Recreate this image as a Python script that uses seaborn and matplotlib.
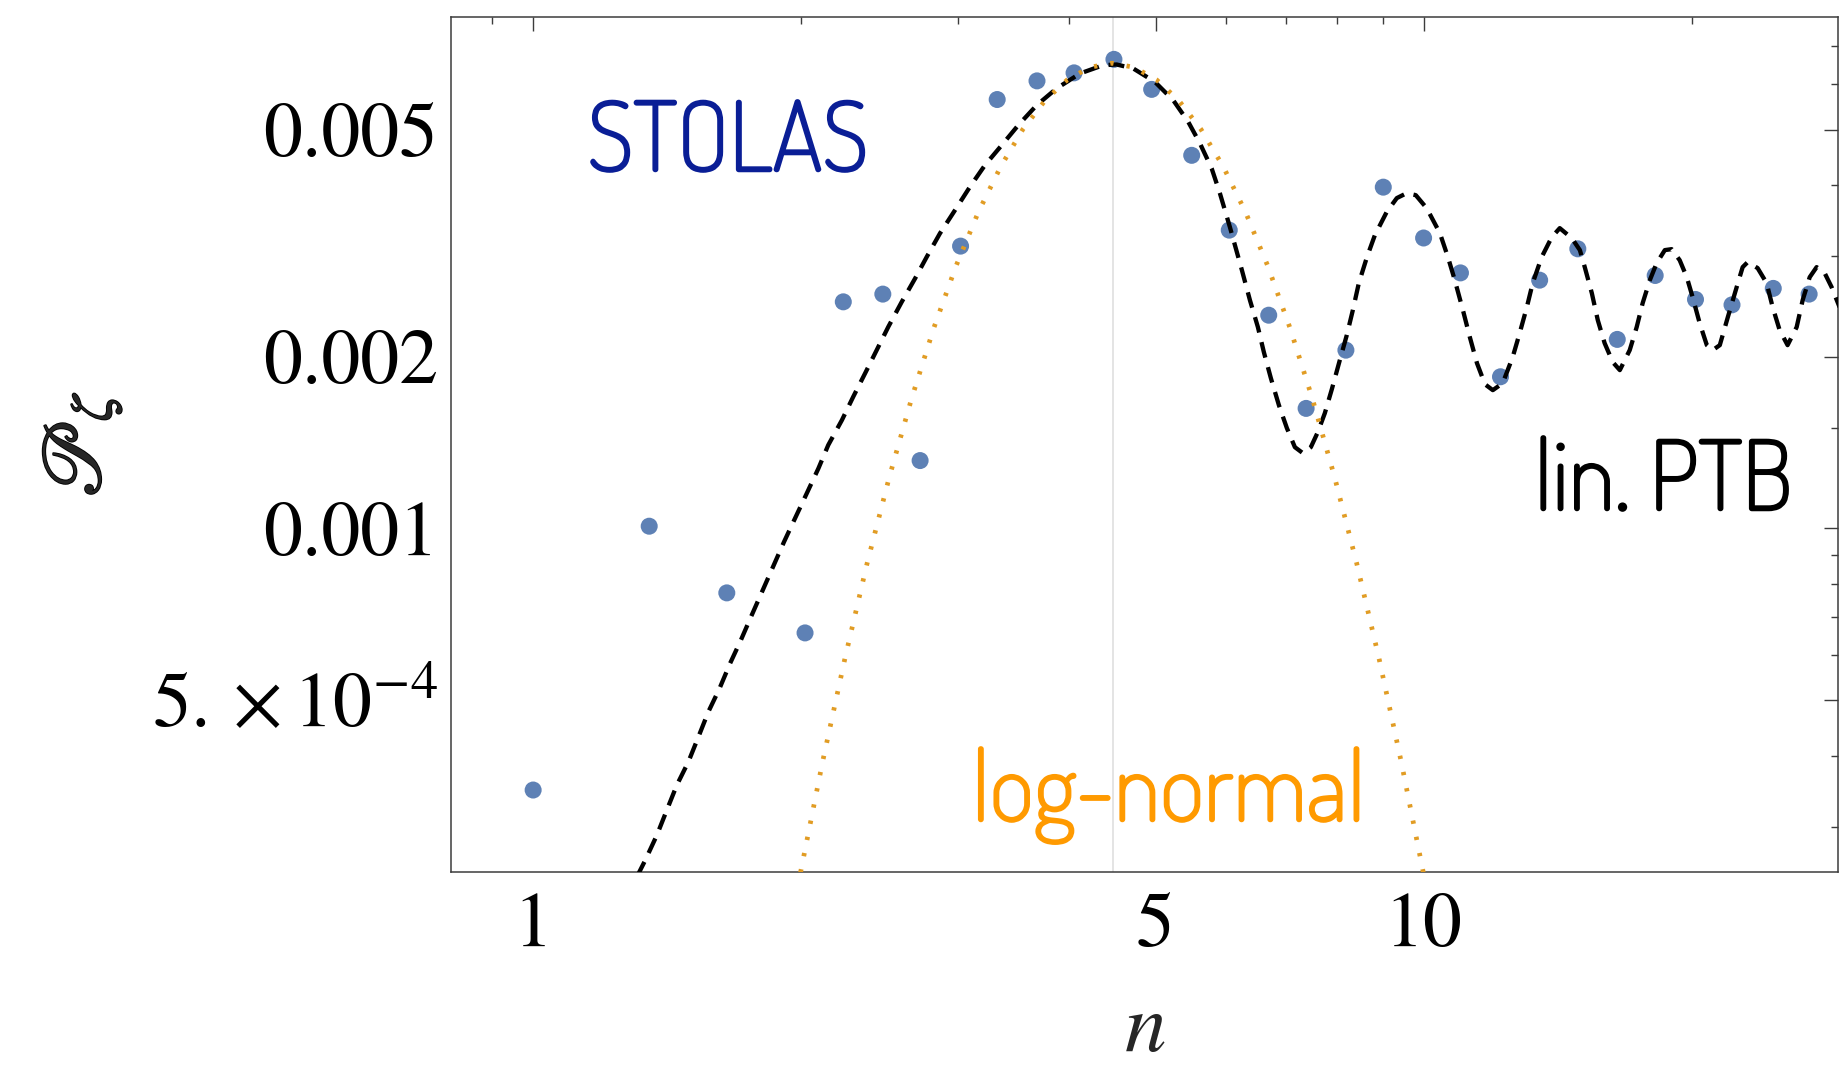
import matplotlib
matplotlib.use("Agg")
import matplotlib.pyplot as plt
import matplotlib.patheffects as pe
import seaborn as sns
from matplotlib import font_manager as fm
from matplotlib.ticker import FixedLocator, FixedFormatter, NullFormatter

# ---------------- data ----------------
n_stolas = [1.00, 1.35, 1.65, 2.02, 2.23, 2.47, 2.72, 3.02, 3.32, 3.68,
            4.05, 4.49, 4.95, 5.49, 6.05, 6.70, 7.38, 8.18, 9.01, 10.0,
            11.0, 12.2, 13.5, 14.9, 16.5, 18.2, 20.2, 22.2, 24.7, 27.1]
P_stolas = [3.48e-4, 1.009e-3, 7.71e-4, 6.56e-4, 2.495e-3, 2.574e-3, 1.315e-3, 3.124e-3, 5.644e-3, 6.085e-3,
            6.285e-3, 6.637e-3, 5.880e-3, 4.506e-3, 3.332e-3, 2.364e-3, 1.623e-3, 2.053e-3, 3.963e-3, 3.228e-3,
            2.804e-3, 1.844e-3, 2.723e-3, 3.090e-3, 2.144e-3, 2.775e-3, 2.519e-3, 2.465e-3, 2.634e-3, 2.574e-3]

n_ptb = [1.27, 1.336, 1.377, 1.413, 1.450, 1.494, 1.533, 1.573, 1.619, 1.664,
         1.711, 1.760, 1.811, 1.861, 1.913, 1.968, 2.029, 2.091, 2.145, 2.222,
         2.288, 2.359, 2.431, 2.505, 2.594, 2.685, 2.767, 2.863, 2.977, 3.094,
         3.217, 3.359, 3.506, 3.677, 3.871, 4.113, 4.368, 4.522, 4.720, 4.991,
         5.234, 5.441, 5.609, 5.781, 5.906, 6.060, 6.251, 6.382, 6.515, 6.616,
         6.737, 6.878, 7.022, 7.169, 7.318, 7.471, 7.607, 7.746, 7.888, 8.052,
         8.199, 8.328, 8.458, 8.637, 8.816, 9.092, 9.331, 9.575, 9.800, 10.08,
         10.43, 10.65, 10.84, 11.07, 11.27, 11.48, 11.72, 11.96, 12.27, 12.59,
         12.82, 13.06, 13.26, 13.57, 13.93, 14.22, 14.67, 14.98, 15.17, 15.45,
         15.69, 15.97, 16.31, 16.61, 17.04, 17.35, 17.62, 17.95, 18.27, 18.66,
         18.99, 19.39, 19.75, 20.05, 20.42, 20.80, 21.12, 21.51, 21.96, 22.47,
         22.82, 23.12, 23.72, 24.28, 24.66, 25.11, 25.63, 26.24, 26.65, 27.14,
         27.63, 28.21, 28.72, 29.32]
P_ptb_e3 = [0.224, 0.262, 0.290, 0.321, 0.355, 0.390, 0.431, 0.477, 0.524, 0.580,
            0.637, 0.705, 0.780, 0.859, 0.947, 1.041, 1.152, 1.274, 1.400, 1.548,
            1.701, 1.869, 2.053, 2.255, 2.495, 2.742, 2.991, 3.288, 3.612, 3.968,
            4.332, 4.694, 5.089, 5.516, 5.902, 6.270, 6.483, 6.501, 6.397, 6.061,
            5.628, 5.158, 4.727, 4.274, 3.864, 3.373, 2.835, 2.512, 2.253, 2.037,
            1.834, 1.645, 1.499, 1.388, 1.355, 1.388, 1.475, 1.592, 1.754, 1.972,
            2.182, 2.413, 2.691, 2.988, 3.265, 3.588, 3.792, 3.869, 3.837, 3.641,
            3.292, 2.988, 2.723, 2.413, 2.164, 1.948, 1.789, 1.747, 1.797, 1.996,
            2.199, 2.442, 2.691, 2.988, 3.239, 3.359, 3.226, 3.074, 2.870, 2.584,
            2.317, 2.112, 1.956, 1.894, 2.053, 2.253, 2.482, 2.723, 2.917, 3.074,
            3.086, 2.952, 2.756, 2.543, 2.289, 2.095, 2.053, 2.095, 2.345, 2.648,
            2.870, 2.929, 2.859, 2.691, 2.442, 2.226, 2.095, 2.253, 2.512, 2.756,
            2.870, 2.802, 2.648, 2.442]

n_ln = [1.950, 1.995, 2.113, 2.239, 2.371, 2.512, 2.661, 2.818, 2.985, 3.162,
        3.350, 3.548, 3.758, 3.981, 4.217, 4.467, 4.732, 5.012, 5.309, 5.623,
        5.957, 6.310, 6.683, 7.079, 7.499, 7.943, 8.414, 8.913, 9.441, 10.0, 10.23]
P_ln_e3 = [0.205, 0.248, 0.389, 0.591, 0.867, 1.231, 1.690, 2.245, 2.884, 3.583,
           4.305, 5.005, 5.624, 6.113, 6.427, 6.535, 6.427, 6.113, 5.624, 5.005,
           4.305, 3.583, 2.884, 2.245, 1.690, 1.231, 0.867, 0.591, 0.389, 0.248, 0.205]

n_peak = 4.475

x_major = [1, 5, 10]
x_major_labels = ["1", "5", "10"]
x_minor = [0.9, 2, 3, 4, 6, 7, 8, 9, 20]
y_major = [5e-4, 1e-3, 2e-3, 5e-3]
y_major_labels = [r"$5.\times10^{-4}$", "0.001", "0.002", "0.005"]
y_minor = [3e-4, 4e-4, 6e-4, 7e-4, 8e-4, 9e-4, 1.5e-3, 3e-3, 4e-3, 6e-3, 7e-3]

P_ptb = [v * 1e-3 for v in P_ptb_e3]
P_ln = [v * 1e-3 for v in P_ln_e3]

# ---------------- style ----------------
sns.set_theme(style="white")
plt.rcParams["font.family"] = ["STIXGeneral", "DejaVu Serif"]
plt.rcParams["mathtext.fontset"] = "stix"

names = {f.name for f in fm.fontManager.ttflist}
label_font = "DejaVu Sans"
for cand in ["Dosis", "Roboto Condensed", "Roboto"]:
    if cand in names:
        label_font = cand
        break

W, H = 1845, 1066
L, R, T, B = 450.7, 1838.0, 16.5, 872.0
fig = plt.figure(figsize=(W / 100, H / 100), dpi=100)
ax = fig.add_axes([L / W, (H - B) / H, (R - L) / W, (B - T) / H])
ax.set_xscale("log")
ax.set_yscale("log")

ax.axvline(n_peak, color="#dcdcdc", lw=1.1, zorder=1)
sns.scatterplot(x=n_stolas, y=P_stolas, ax=ax, s=150, color="#5E81B5",
                edgecolor="none", linewidth=0, zorder=2)
sns.lineplot(x=n_ptb, y=P_ptb, ax=ax, color="black", lw=3.1,
             linestyle=(0, (3.7, 2.3)), sort=False, estimator=None, zorder=3)
sns.lineplot(x=n_ln, y=P_ln, ax=ax, color="#E19C24", lw=3.4,
             linestyle=(0, (0.7, 2.8)), sort=False, estimator=None, zorder=4)

ax.set_xlim(0.808, 29.2)
ax.set_ylim(2.5e-4, 7.89e-3)

ax.xaxis.set_major_locator(FixedLocator(x_major))
ax.xaxis.set_major_formatter(FixedFormatter(x_major_labels))
ax.xaxis.set_minor_locator(FixedLocator(x_minor))
ax.xaxis.set_minor_formatter(NullFormatter())
ax.yaxis.set_major_locator(FixedLocator(y_major))
ax.yaxis.set_major_formatter(FixedFormatter(y_major_labels))
ax.yaxis.set_minor_locator(FixedLocator(y_minor))
ax.yaxis.set_minor_formatter(NullFormatter())

frame_c = "#3c3c3c"
for sp in ax.spines.values():
    sp.set_color(frame_c)
    sp.set_linewidth(1.1)
ax.tick_params(which="both", direction="in", top=True, right=True,
               color=frame_c, width=1.0, labelcolor="black")
ax.tick_params(which="major", length=10, labelsize=56)
ax.tick_params(which="minor", length=5)
ax.tick_params(axis="x", which="major", pad=15)
ax.tick_params(axis="y", which="major", pad=9)

ax.set_xlabel(r"$n$", fontsize=60)
ax.xaxis.set_label_coords(0.5, (B - 1032) / (B - T))
ax.xaxis.label.set_va("center")
ax.set_ylabel(r"$\mathscr{P}_{\zeta}$", fontsize=60,
              path_effects=[pe.withStroke(linewidth=1.3, foreground="black")])
ax.yaxis.set_label_coords((82 - L) / (R - L), 0.5)
ax.yaxis.label.set_va("center")

def fx(px):
    return (px - L) / (R - L)

def fy(py):
    return (B - py) / (B - T)

def label(xp, yp, s, c):
    ax.text(fx(xp), fy(yp), s, transform=ax.transAxes, ha="center", va="baseline",
            color=c, fontsize=69, family=[label_font, "DejaVu Sans"],
            path_effects=[pe.withStroke(linewidth=1.8, foreground=c)])

label(728, 171, "STOLAS", "#0A1E96")
label(1663.5, 510, "lin. PTB", "black")
label(1168.5, 821, "log-normal", "#FF9A00")

fig.savefig("out.png", dpi=100)
